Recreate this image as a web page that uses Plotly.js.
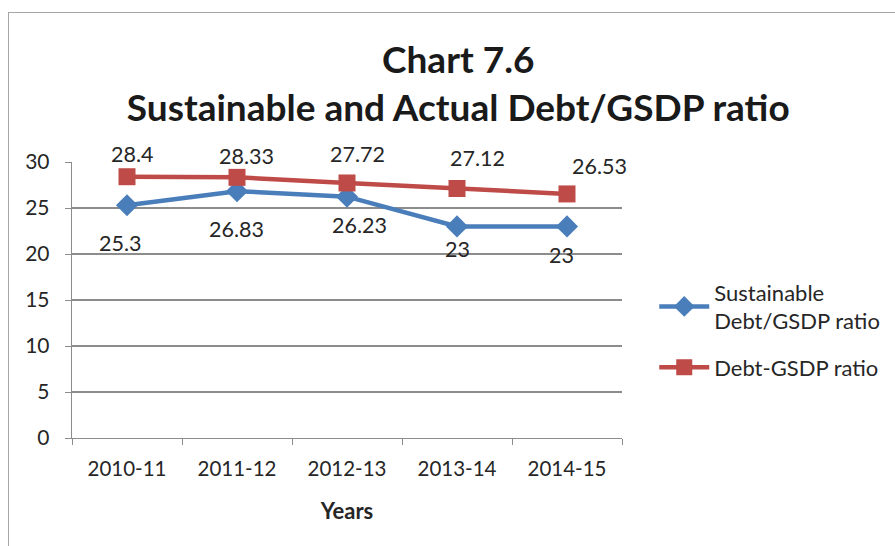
<!DOCTYPE html>
<html><head><meta charset="utf-8">
<script src="https://cdn.plot.ly/plotly-3.0.1.min.js"></script>
<style>
html,body{margin:0;padding:0;background:#fff;}
#frame{position:absolute;left:8px;top:12px;width:1000px;height:1000px;border-left:1.5px solid #a6a6a6;border-top:1.5px solid #a6a6a6;}
#chart{position:absolute;left:0;top:0;width:895px;height:546px;}
</style></head>
<body>
<div id="frame"></div>
<div id="chart"></div>
<script>
const years = ["2010-11","2011-12","2012-13","2013-14","2014-15"];
const sustainable = [25.3, 26.83, 26.23, 23, 23];
const actual = [28.4, 28.33, 27.72, 27.12, 26.53];
const sustainableLabels = ["25.3","26.83","26.23","23","23"];
const actualLabels = ["28.4","28.33","27.72","27.12","26.53"];

// label placement offsets in pixels (layout only)
const susOffX = [-7, -1, 12, 0, -6];
const susOffY = [-38, -38, -28, -23, -29];
const actOffX = [5, 9, 10, 20, 32];
const actOffY = [23, 21, 29, 31, 28];

const FONT = "Lato, 'Open Sans', sans-serif";
const TXT = "#262626";

const traces = [
  {x: years, y: sustainable, name: "Sustainable<br>Debt/GSDP ratio", type: "scatter", mode: "lines+markers",
   legendgroup: "a",
   line: {color: "#4a7ebb", width: 4.5}, marker: {symbol: "diamond", size: 17, color: "#4a7ebb"}},
  {x: years, y: actual, name: "Debt-GSDP ratio", type: "scatter", mode: "lines+markers",
   legendgroup: "b",
   line: {color: "#be4b48", width: 4.5}, marker: {symbol: "square", size: 17, color: "#be4b48"}}
];

const annotations = [];
years.forEach((c, i) => {
  annotations.push({x: c, y: sustainable[i], text: sustainableLabels[i], showarrow: false,
    xref: "x", yref: "y", xshift: susOffX[i], yshift: susOffY[i], font: {family: FONT, size: 21.5, color: TXT}});
  annotations.push({x: c, y: actual[i], text: actualLabels[i], showarrow: false,
    xref: "x", yref: "y", xshift: actOffX[i], yshift: actOffY[i], font: {family: FONT, size: 21.5, color: TXT}});
});

const layout = {
  width: 895, height: 546,
  margin: {l: 72, r: 273, t: 162, b: 108},
  paper_bgcolor: "rgba(0,0,0,0)", plot_bgcolor: "rgba(0,0,0,0)",
  font: {family: FONT, color: TXT},
  title: {text: "<b>Chart 7.6</b><br><b>Sustainable and Actual Debt/GSDP ratio</b>",
    x: 0.512, xanchor: "center", y: 0.867, yanchor: "middle",
    font: {family: FONT, size: 37, color: "#1a1a1a"}},
  xaxis: {type: "category", range: [-0.5, 4.5], tickson: "boundaries", ticks: "outside", ticklen: 6, tickcolor: "#8c8c8c",
    showline: true, linecolor: "#8c8c8c", linewidth: 1.3, showgrid: false, ticklabelstandoff: 12,
    tickfont: {family: FONT, size: 20.5, color: TXT},
    title: {text: "<b>Years</b>", font: {family: FONT, size: 22, color: TXT}, standoff: 24}},
  yaxis: {range: [0, 30], dtick: 5, ticks: "outside", ticklen: 6, tickcolor: "#8c8c8c",
    showline: true, linecolor: "#8c8c8c", linewidth: 1.3, gridcolor: "#8c8c8c", gridwidth: 1.3,
    zeroline: false, ticklabelstandoff: 11, tickfont: {family: FONT, size: 21, color: TXT}},
  legend: {xref: "container", yref: "container", x: 0.731, y: 0.503, xanchor: "left", yanchor: "top",
    bgcolor: "rgba(0,0,0,0)", font: {family: FONT, size: 22, color: TXT}, itemwidth: 50, tracegroupgap: 15},
  annotations: annotations,
  showlegend: true
};

Plotly.newPlot("chart", traces, layout, {displayModeBar: false, staticPlot: true});
</script>
</body></html>
